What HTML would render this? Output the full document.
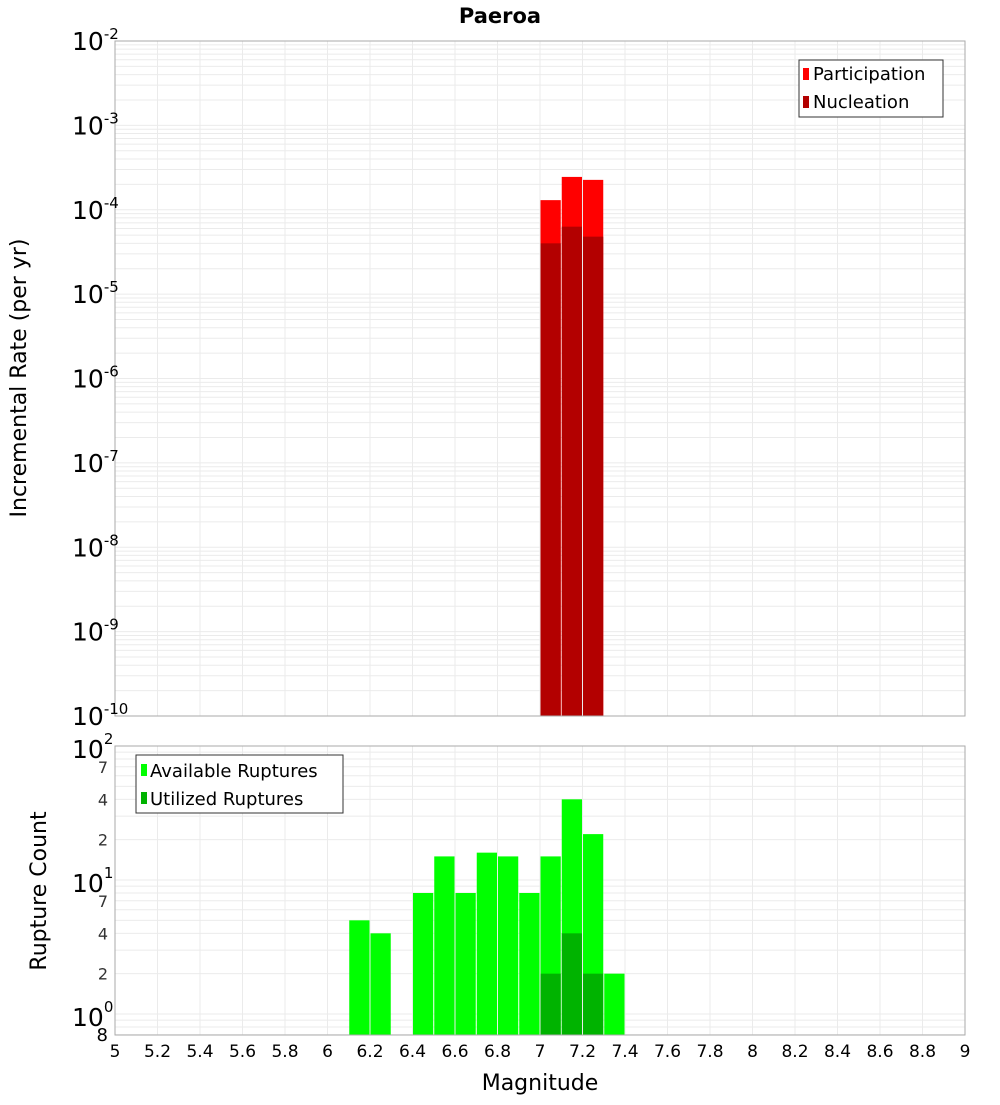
<!DOCTYPE html>
<html><head><meta charset="utf-8"><style>
body{margin:0;background:#fff;font-family:"Liberation Sans","DejaVu Sans",sans-serif}
svg text{font-family:"DejaVu Sans","Liberation Sans",sans-serif}
</style></head><body>
<svg id="c" width="1000" height="1100" xmlns="http://www.w3.org/2000/svg">
<text x="500" y="23" text-anchor="middle" font-size="21" font-weight="bold">Paeroa</text>
<text transform="translate(26,378) rotate(-90)" text-anchor="middle" font-size="22">Incremental Rate (per yr)</text>
<text transform="translate(46,891) rotate(-90)" text-anchor="middle" font-size="22">Rupture Count</text>
<text x="540" y="1090" text-anchor="middle" font-size="22">Magnitude</text>
<g id="topg"></g>
<g id="botg"></g>
</svg>
<script>
const mags=[7.05,7.15,7.25];
const participation=[1.3e-4,2.45e-4,2.26e-4];
const nucleation=[4.0e-5,6.3e-5,4.8e-5];
const cntMags=[6.15,6.25,6.45,6.55,6.65,6.75,6.85,6.95,7.05,7.15,7.25,7.35];
const available=[5,4,8,15,8,16,15,8,15,40,22,2];
const utilMags=[7.05,7.15,7.25];
const utilized=[2,4,2];
const xTicks=["5","5.2","5.4","5.6","5.8","6","6.2","6.4","6.6","6.8","7","7.2","7.4","7.6","7.8","8","8.2","8.4","8.6","8.8","9"];
const topExps=[-2,-3,-4,-5,-6,-7,-8,-9,-10];
const botMinor=["7","4","2"];

const NS="http://www.w3.org/2000/svg";
function mk(p,t,a){const e=document.createElementNS(NS,t);for(const k in a)e.setAttribute(k,a[k]);p.appendChild(e);return e;}
const X0=115,X1=965;
const xs=m=>X0+(m-5)/4*(X1-X0);
const TT=41,TB=716;
const yT=v=>TT+(-2-Math.log10(v))/8*(TB-TT);
const BT=746,BB=1035,DEC=134,Y0=1014;
const yB=v=>Y0-Math.log10(v)*DEC;
const topG=document.getElementById('topg'),botG=document.getElementById('botg');
const svgEl=document.getElementById('c');

for(let e=-10;e<-2;e++){for(let k=1;k<10;k++){const y=yT(k*Math.pow(10,e));
 const l=mk(topG,'line',{x1:X0,x2:X1,y1:y,y2:y,stroke:'#ebebeb','stroke-width':1});
 
 }}
xTicks.forEach(t=>{const x=xs(+t);
 const l=mk(topG,'line',{x1:x,x2:x,y1:TT,y2:TB,stroke:'#ebebeb'});
 
 
 const l2=mk(botG,'line',{x1:x,x2:x,y1:BT,y2:BB,stroke:'#ebebeb'});
 
 
 const tx=mk(svgEl,'text',{x:x,y:1057,'text-anchor':'middle','font-size':17});
 tx.textContent=t;
 
 });
function expLabel(y,e,fs,sup,dy){
 const t=mk(svgEl,'text',{x:72,y:y,'font-size':fs});
 t.appendChild(document.createTextNode('10'));
 const s=mk(t,'tspan',{dy:dy,'font-size':sup});
 s.textContent=String(e);
 return t;}
topExps.forEach(e=>{const y=yT(Math.pow(10,e));
 const t=expLabel(y+9,e,25,15,-11);
 
 });
const bw=(X1-X0)/40;
mags.forEach((m,i)=>{const x=xs(m)-bw/2+0.5;
 const r=mk(topG,'rect',{x:x,y:yT(participation[i]),width:bw-1,height:TB-yT(participation[i]),fill:'#ff0000'});
 
 
 const r2=mk(topG,'rect',{x:x,y:yT(nucleation[i]),width:bw-1,height:TB-yT(nucleation[i]),fill:'#b30000'});
 
 });
mk(topG,'rect',{x:X0,y:TT,width:X1-X0,height:TB-TT,fill:'none',stroke:'#aaa'});

for(let e=-1;e<2;e++){for(let k=1;k<10;k++){const v=k*Math.pow(10,e);const y=yB(v);if(y>BB||y<BT)continue;
 const l=mk(botG,'line',{x1:X0,x2:X1,y1:y,y2:y,stroke:'#ebebeb'});
 
 }}
[0,1,2].forEach(e=>{const y=yB(Math.pow(10,e));
 const t=expLabel(y+12,e,25,15,-14);
 
 });
[0,1].forEach(e=>botMinor.forEach(s=>{const y=yB(+s*Math.pow(10,e));
 const t=mk(svgEl,'text',{x:108,y:y+6,'font-size':16,'text-anchor':'end',fill:'#333'});
 t.textContent=s;
 
 }));
const t8=mk(svgEl,'text',{x:108,y:1041,'font-size':18,'text-anchor':'end'});t8.textContent='8';


cntMags.forEach((m,i)=>{const x=xs(m)-bw/2+0.5;
 const r=mk(botG,'rect',{x:x,y:yB(available[i]),width:bw-1,height:BB-yB(available[i]),fill:'#00ff00'});
 
 });
utilMags.forEach((m,i)=>{const x=xs(m)-bw/2+0.5;
 const r=mk(botG,'rect',{x:x,y:yB(utilized[i]),width:bw-1,height:BB-yB(utilized[i]),fill:'#00b300'});
 
 });
mk(botG,'rect',{x:X0,y:BT,width:X1-X0,height:BB-BT,fill:'none',stroke:'#aaa'});
</script>
<svg style="position:absolute;left:0;top:0" width="1000" height="1100">
<g>
<rect x="799" y="60" width="144" height="57" fill="#fff" stroke="#333"/>
<rect x="803" y="68" width="6" height="12" fill="#ff0000"/>
<text x="813" y="80" font-size="18" font-family="DejaVu Sans,sans-serif">Participation</text>
<rect x="803" y="96" width="6" height="12" fill="#b30000"/>
<text x="813" y="108" font-size="18" font-family="DejaVu Sans,sans-serif">Nucleation</text>
</g>
<g>
<rect x="136" y="755" width="207" height="58" fill="#fff" stroke="#333"/>
<rect x="141" y="764" width="6" height="12" fill="#00ff00"/>
<text x="150" y="777" font-size="18" font-family="DejaVu Sans,sans-serif">Available Ruptures</text>
<rect x="141" y="792" width="6" height="12" fill="#00b300"/>
<text x="150" y="805" font-size="18" font-family="DejaVu Sans,sans-serif">Utilized Ruptures</text>
</g>
</svg>
</body></html>
